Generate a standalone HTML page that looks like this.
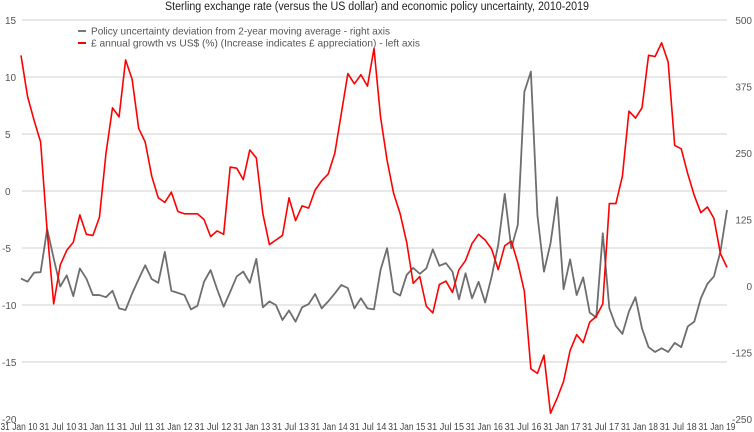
<!DOCTYPE html>
<html><head><meta charset="utf-8"><style>
html,body{margin:0;padding:0;background:#fff;}
svg{display:block;font-family:"Liberation Sans",sans-serif;}
</style></head><body>
<svg id="chart" width="754" height="432" viewBox="0 0 754 432">
<text x="377" y="10" text-anchor="middle" font-size="11.5" fill="#222" textLength="424" lengthAdjust="spacingAndGlyphs">Sterling exchange rate (versus the US dollar) and economic policy uncertainty, 2010-2019</text>
<g id="grid"></g>
<g id="lticks"></g>
<g id="rticks"></g>
<g id="xticks"></g>
<g id="series"></g>
<g>
<g><line x1="78" y1="31" x2="86" y2="31" stroke="#777" stroke-width="2"/><text x="91" y="34.5" font-size="10.5" fill="#555" textLength="299" lengthAdjust="spacingAndGlyphs">Policy uncertainty deviation from 2-year moving average - right axis</text></g>
<g><line x1="78" y1="43" x2="86" y2="43" stroke="#f00" stroke-width="2"/><text x="91" y="46.5" font-size="10.5" fill="#555" textLength="329" lengthAdjust="spacingAndGlyphs">£ annual growth vs US$ (%) (Increase indicates £ appreciation) - left axis</text></g>
</g>
</svg>
<script>
const leftTicks=[15,10,5,0,-5,-10,-15,-20];
const rightTicks=[500,375,250,125,0,-125,-250];
const xLabels=["31 Jan 10","31 Jul 10","31 Jan 11","31 Jul 11","31 Jan 12","31 Jul 12","31 Jan 13","31 Jul 13","31 Jan 14","31 Jul 14","31 Jan 15","31 Jul 15","31 Jan 16","31 Jul 16","31 Jan 17","31 Jul 17","31 Jan 18","31 Jul 18","31 Jan 19"];
const sterling=[11.9,8.3,6.2,4.3,-3.5,-9.9,-6.5,-5.2,-4.5,-2.1,-3.8,-3.9,-2.3,3.3,7.3,6.5,11.5,9.8,5.5,4.3,1.3,-0.6,-1.0,-0.1,-1.8,-2.0,-2.0,-2.0,-2.5,-4.0,-3.5,-3.8,2.1,2.0,1.0,3.6,2.9,-2.0,-4.7,-4.3,-3.9,-0.6,-2.6,-1.3,-1.5,0.1,0.9,1.5,3.3,6.8,10.3,9.4,10.2,9.2,12.5,6.5,2.7,-0.2,-2.0,-4.5,-8.1,-7.5,-10.1,-10.7,-8.2,-7.9,-8.9,-6.9,-6.1,-4.6,-3.8,-4.3,-5.1,-6.9,-4.8,-4.4,-6.3,-8.8,-15.6,-16.0,-14.4,-19.5,-18.2,-16.7,-14.0,-12.6,-13.3,-11.5,-11.0,-9.9,-1.1,-1.1,1.3,7.0,6.4,7.3,11.9,11.8,13.0,11.3,4.0,3.7,1.5,-0.4,-1.9,-1.4,-2.4,-5.5,-6.7];
const uncertainty=[14,8,25,26,107,52,-1,20,-19,33,14,-17,-17,-21,-9,-42,-45,-14,13,39,13,6,64,-9,-13,-17,-44,-37,8,30,-6,-39,-11,18,27,6,51,-40,-29,-36,-64,-46,-67,-40,-34,-15,-42,-29,-14,2,-4,-42,-23,-42,-44,30,71,-11,-18,21,34,23,33,69,38,43,27,-25,24,-23,8,-31,18,77,173,71,115,365,403,133,27,80,167,-6,50,-17,16,-50,-59,99,-42,-75,-90,-48,-21,-80,-115,-124,-117,-124,-107,-115,-76,-67,-23,4,18,65,143];
const NS="http://www.w3.org/2000/svg";
const X0=21,X1=727,YT=20,YB=419;
function xScale(i){return X0+(X1-X0)*i/(sterling.length-1);}
function yLeft(v){return YB-(v-(-20))/(35)*(YB-YT);}
function yRight(v){return YB-(v-(-250))/(750)*(YB-YT);}
function mk(tag,attrs,parent){const e=document.createElementNS(NS,tag);for(const k in attrs)e.setAttribute(k,attrs[k]);parent.appendChild(e);return e;}
const grid=document.getElementById('grid'),lt=document.getElementById('lticks'),rt=document.getElementById('rticks'),xt=document.getElementById('xticks'),ser=document.getElementById('series');
leftTicks.forEach(v=>{
  if(v>-20){const g=mk('line',{x1:22,x2:727,y1:yLeft(v),y2:yLeft(v),stroke:'#e0e0e0','stroke-width':1.5},grid);
  
  }
  const t=mk('text',{x:v<0?2:5,y:yLeft(v)+4,'font-size':10,fill:'#555'},lt);t.textContent=v;
  
  
});
rightTicks.forEach(v=>{
  const t=mk('text',{x:752,y:yRight(v)+4,'font-size':10,fill:'#555','text-anchor':'end'},rt);t.textContent=v;
  
  
});
xLabels.forEach((s,k)=>{
  const cx=19+k*(734-19*2+2)/(xLabels.length-1);
  const t=mk('text',{x:cx,y:430,'font-size':10,fill:'#444','text-anchor':'middle',textLength:37,lengthAdjust:'spacingAndGlyphs'},xt);t.textContent=s;
  
  
});
const gp=mk('polyline',{points:uncertainty.map((v,i)=>xScale(i)+','+yRight(v)).join(' '),fill:'none',stroke:'#6e6e6e','stroke-width':1.8,'stroke-linejoin':'round'},ser);


const rp=mk('polyline',{points:sterling.map((v,i)=>xScale(i)+','+yLeft(v)).join(' '),fill:'none',stroke:'#ff0000','stroke-width':1.6,'stroke-linejoin':'round'},ser);


</script>
</body></html>
